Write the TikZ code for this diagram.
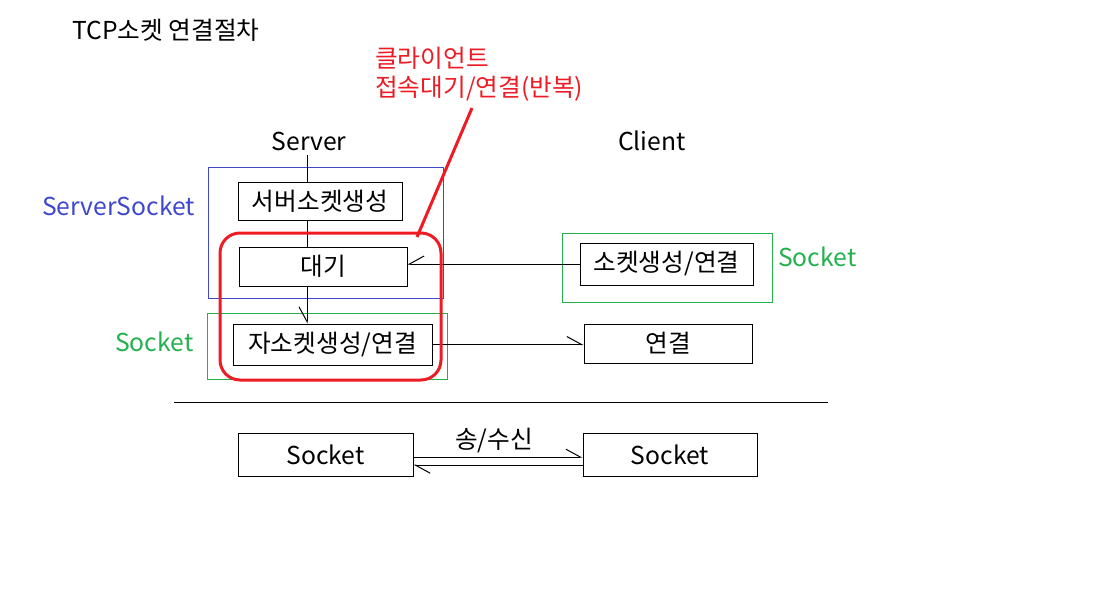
\documentclass[tikz,border=0pt]{standalone}
\usepackage{fontspec}
\setmainfont{Noto Sans CJK KR}
\usepackage{tikz}
\usepackage{xcolor}
\usetikzlibrary{arrows.meta}

\definecolor{pblue}{RGB}{63,72,204}
\definecolor{pgreen}{RGB}{34,177,76}
\definecolor{pred}{RGB}{237,28,36}

\begin{document}
\begin{tikzpicture}[x=0.75pt, y=-0.75pt,
    every node/.style={font=\fontsize{18.5}{22}\selectfont},
    lbl/.style={anchor=west, inner sep=0pt},
    box/.style={draw, line width=0.75pt, inner sep=0pt},
    half/.style={line width=0.75pt, -{Straight Barb[harpoon, length=11pt, width=12pt]}},
    halfsw/.style={line width=0.75pt, -{Straight Barb[harpoon, swap, length=11pt, width=12pt]}}]
    \useasboundingbox (0,0) rectangle (1096,611);

    % titles
    \node[lbl] (title) at (72, 30) {TCP소켓 연결절차};
    \node[lbl, text=pred] (note1) at (375, 58) {클라이언트};
    \node[lbl, text=pred] (note2) at (375, 89) {접속대기/연결(반복)};
    \node (server) at (309, 141) {Server};
    \node (client) at (652, 141) {Client};
    \node[lbl, text=pblue] (ssock) at (42, 206) {ServerSocket};
    \node[lbl, text=pgreen] (sockl) at (115, 342) {Socket};
    \node[lbl, text=pgreen] (sockr) at (778, 257) {Socket};

    % frames
    \draw[pblue, line width=0.75pt] (208, 167) rectangle (443, 298);
    \draw[pgreen, line width=0.75pt] (207, 313) rectangle (447, 379);
    \draw[pgreen, line width=0.75pt] (562, 233) rectangle (772, 302);

    % boxes
    \node[box, minimum width=123pt, minimum height=28.5pt] (smake) at (320, 201) {서버소켓생성};
    \node[box, minimum width=126pt, minimum height=29.25pt] (wait) at (323, 266.5) {대기};
    \node[box, minimum width=149.25pt, minimum height=30.75pt] (child) at (332.5, 344.5) {자소켓생성/연결};
    \node[box, minimum width=129.75pt, minimum height=31.5pt] (cmake) at (666.5, 264) {소켓생성/연결};
    \node[box, minimum width=126pt, minimum height=29.25pt] (cconn) at (668, 343.5) {연결};
    \node[box, minimum width=131.25pt, minimum height=32.25pt] (sockA) at (325.5, 454.5) {Socket};
    \node[box, minimum width=130.5pt, minimum height=32.25pt] (sockB) at (670, 454.5) {Socket};

    % connectors
    \draw[line width=0.75pt] ([xshift=-1.5pt]server.south) -- ([xshift=-1.5pt]server.south |- smake.north);
    \draw[line width=0.75pt] ([xshift=-1.5pt]server.south |- smake.south) -- ([xshift=-1.5pt]server.south |- wait.north);
    \draw[halfsw] ([xshift=-1.5pt]server.south |- wait.south) -- ([xshift=-1.5pt]server.south |- child.north);
    \draw[halfsw] (cmake.west) -- (cmake.west -| wait.east);
    \draw[half] (child.east) -- (child.east -| cconn.west);
    \draw[half] ([yshift=-2pt]sockA.east) -- ([yshift=-2pt]sockA.east -| sockB.west);
    \draw[half] ([yshift=-8pt]sockB.west) -- ([yshift=-8pt]sockB.west -| sockA.east);
    \node (sendrecv) at (494, 441) {송/수신};

    % rule
    \coordinate (ruleA) at (174, 402);
    \coordinate (ruleB) at (828, 402);
    \draw[line width=0.75pt] (ruleA) -- (ruleB);

    % repeat marker
    \draw[pred, line width=2.25pt, rounded corners=15pt] (220, 233) rectangle (441, 380);
    \coordinate (rtop) at (472, 108);
    \coordinate (rbot) at (417, 237);
    \draw[pred, line width=2.25pt] (rtop) -- (rbot);
\end{tikzpicture}
\end{document}
